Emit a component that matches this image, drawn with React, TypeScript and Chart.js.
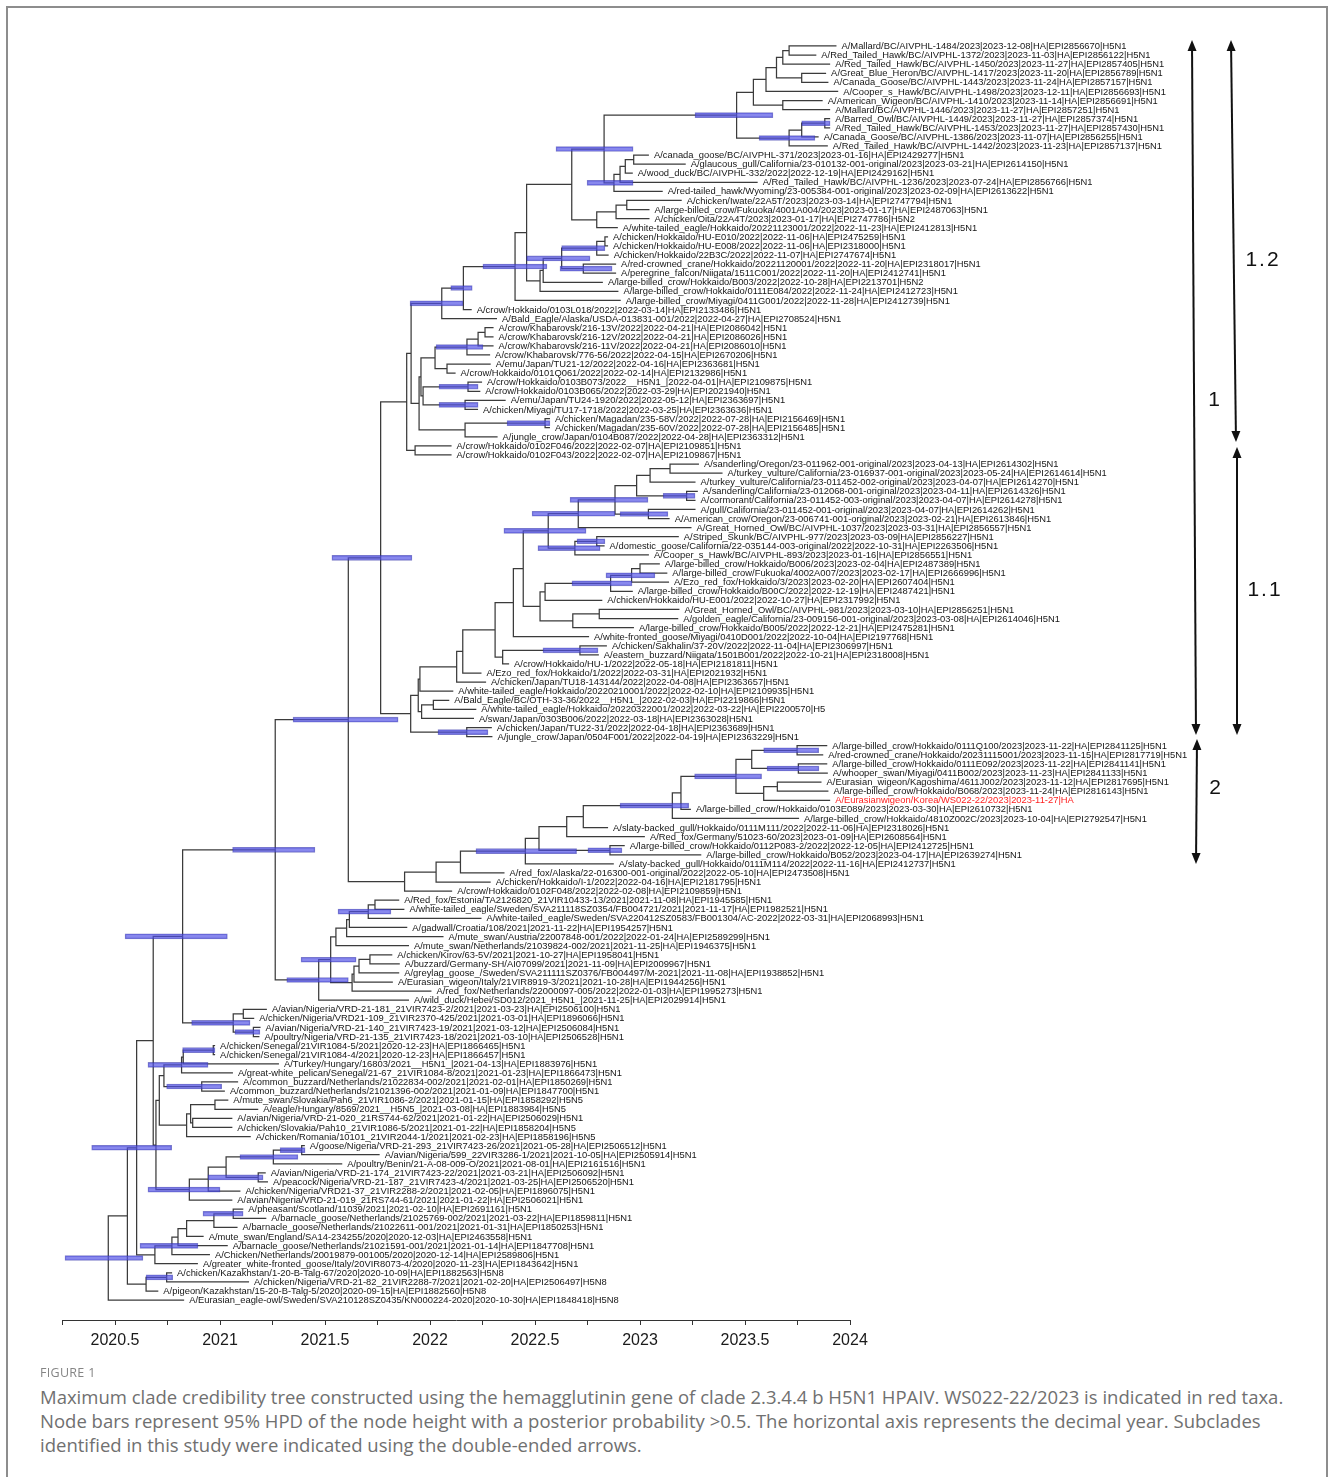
import React, { useEffect, useRef } from "react";
import { Chart, registerables } from "chart.js";
Chart.register(...registerables);

// ---------------- DATA ----------------
const tipLabels: string[] = [
  "A/Mallard/BC/AIVPHL-1484/2023|2023-12-08|HA|EPI2856670|H5N1",
  "A/Red_Tailed_Hawk/BC/AIVPHL-1372/2023|2023-11-03|HA|EPI2856122|H5N1",
  "A/Red_Tailed_Hawk/BC/AIVPHL-1450/2023|2023-11-27|HA|EPI2857405|H5N1",
  "A/Great_Blue_Heron/BC/AIVPHL-1417/2023|2023-11-20|HA|EPI2856789|H5N1",
  "A/Canada_Goose/BC/AIVPHL-1443/2023|2023-11-24|HA|EPI2857157|H5N1",
  "A/Cooper_s_Hawk/BC/AIVPHL-1498/2023|2023-12-11|HA|EPI2856693|H5N1",
  "A/American_Wigeon/BC/AIVPHL-1410/2023|2023-11-14|HA|EPI2856691|H5N1",
  "A/Mallard/BC/AIVPHL-1446/2023|2023-11-27|HA|EPI2857251|H5N1",
  "A/Barred_Owl/BC/AIVPHL-1449/2023|2023-11-27|HA|EPI2857374|H5N1",
  "A/Red_Tailed_Hawk/BC/AIVPHL-1453/2023|2023-11-27|HA|EPI2857430|H5N1",
  "A/Canada_Goose/BC/AIVPHL-1386/2023|2023-11-07|HA|EPI2856255|H5N1",
  "A/Red_Tailed_Hawk/BC/AIVPHL-1442/2023|2023-11-23|HA|EPI2857137|H5N1",
  "A/canada_goose/BC/AIVPHL-371/2023|2023-01-16|HA|EPI2429277|H5N1",
  "A/glaucous_gull/California/23-010132-001-original/2023|2023-03-21|HA|EPI2614150|H5N1",
  "A/wood_duck/BC/AIVPHL-332/2022|2022-12-19|HA|EPI2429162|H5N1",
  "A/Red_Tailed_Hawk/BC/AIVPHL-1236/2023|2023-07-24|HA|EPI2856766|H5N1",
  "A/red-tailed_hawk/Wyoming/23-005384-001-original/2023|2023-02-09|HA|EPI2613622|H5N1",
  "A/chicken/Iwate/22A5T/2023|2023-03-14|HA|EPI2747794|H5N1",
  "A/large-billed_crow/Fukuoka/4001A004/2023|2023-01-17|HA|EPI2487063|H5N1",
  "A/chicken/Oita/22A4T/2023|2023-01-17|HA|EPI2747786|H5N2",
  "A/white-tailed_eagle/Hokkaido/20221123001/2022|2022-11-23|HA|EPI2412813|H5N1",
  "A/chicken/Hokkaido/HU-E010/2022|2022-11-06|HA|EPI2475259|H5N1",
  "A/chicken/Hokkaido/HU-E008/2022|2022-11-06|HA|EPI2318000|H5N1",
  "A/chicken/Hokkaido/22B3C/2022|2022-11-07|HA|EPI2747674|H5N1",
  "A/red-crowned_crane/Hokkaido/20221120001/2022|2022-11-20|HA|EPI2318017|H5N1",
  "A/peregrine_falcon/Niigata/1511C001/2022|2022-11-20|HA|EPI2412741|H5N1",
  "A/large-billed_crow/Hokkaido/B003/2022|2022-10-28|HA|EPI2213701|H5N2",
  "A/large-billed_crow/Hokkaido/0111E084/2022|2022-11-24|HA|EPI2412723|H5N1",
  "A/large-billed_crow/Miyagi/0411G001/2022|2022-11-28|HA|EPI2412739|H5N1",
  "A/crow/Hokkaido/0103L018/2022|2022-03-14|HA|EPI2133486|H5N1",
  "A/Bald_Eagle/Alaska/USDA-013831-001/2022|2022-04-27|HA|EPI2708524|H5N1",
  "A/crow/Khabarovsk/216-13V/2022|2022-04-21|HA|EPI2086042|H5N1",
  "A/crow/Khabarovsk/216-12V/2022|2022-04-21|HA|EPI2086026|H5N1",
  "A/crow/Khabarovsk/216-11V/2022|2022-04-21|HA|EPI2086010|H5N1",
  "A/crow/Khabarovsk/776-56/2022|2022-04-15|HA|EPI2670206|H5N1",
  "A/emu/Japan/TU21-12/2022|2022-04-16|HA|EPI2363681|H5N1",
  "A/crow/Hokkaido/0101Q061/2022|2022-02-14|HA|EPI2132986|H5N1",
  "A/crow/Hokkaido/0103B073/2022__H5N1_|2022-04-01|HA|EPI2109875|H5N1",
  "A/crow/Hokkaido/0103B065/2022|2022-03-29|HA|EPI2021940|H5N1",
  "A/emu/Japan/TU24-1920/2022|2022-05-12|HA|EPI2363697|H5N1",
  "A/chicken/Miyagi/TU17-1718/2022|2022-03-25|HA|EPI2363636|H5N1",
  "A/chicken/Magadan/235-58V/2022|2022-07-28|HA|EPI2156469|H5N1",
  "A/chicken/Magadan/235-60V/2022|2022-07-28|HA|EPI2156485|H5N1",
  "A/jungle_crow/Japan/0104B087/2022|2022-04-28|HA|EPI2363312|H5N1",
  "A/crow/Hokkaido/0102F046/2022|2022-02-07|HA|EPI2109851|H5N1",
  "A/crow/Hokkaido/0102F043/2022|2022-02-07|HA|EPI2109867|H5N1",
  "A/sanderling/Oregon/23-011962-001-original/2023|2023-04-13|HA|EPI2614302|H5N1",
  "A/turkey_vulture/California/23-016937-001-original/2023|2023-05-24|HA|EPI2614614|H5N1",
  "A/turkey_vulture/California/23-011452-002-original/2023|2023-04-07|HA|EPI2614270|H5N1",
  "A/sanderling/California/23-012068-001-original/2023|2023-04-11|HA|EPI2614326|H5N1",
  "A/cormorant/California/23-011452-003-original/2023|2023-04-07|HA|EPI2614278|H5N1",
  "A/gull/California/23-011452-001-original/2023|2023-04-07|HA|EPI2614262|H5N1",
  "A/American_crow/Oregon/23-006741-001-original/2023|2023-02-21|HA|EPI2613846|H5N1",
  "A/Great_Horned_Owl/BC/AIVPHL-1037/2023|2023-03-31|HA|EPI2856557|H5N1",
  "A/Striped_Skunk/BC/AIVPHL-977/2023|2023-03-09|HA|EPI2856227|H5N1",
  "A/domestic_goose/California/22-035144-003-original/2022|2022-10-31|HA|EPI2263506|H5N1",
  "A/Cooper_s_Hawk/BC/AIVPHL-893/2023|2023-01-16|HA|EPI2856551|H5N1",
  "A/large-billed_crow/Hokkaido/B006/2023|2023-02-04|HA|EPI2487389|H5N1",
  "A/large-billed_crow/Fukuoka/4002A007/2023|2023-02-17|HA|EPI2666996|H5N1",
  "A/Ezo_red_fox/Hokkaido/3/2023|2023-02-20|HA|EPI2607404|H5N1",
  "A/large-billed_crow/Hokkaido/B00C/2022|2022-12-19|HA|EPI2487421|H5N1",
  "A/chicken/Hokkaido/HU-E001/2022|2022-10-27|HA|EPI2317992|H5N1",
  "A/Great_Horned_Owl/BC/AIVPHL-981/2023|2023-03-10|HA|EPI2856251|H5N1",
  "A/golden_eagle/California/23-009156-001-original/2023|2023-03-08|HA|EPI2614046|H5N1",
  "A/large-billed_crow/Hokkaido/B005/2022|2022-12-21|HA|EPI2475281|H5N1",
  "A/white-fronted_goose/Miyagi/0410D001/2022|2022-10-04|HA|EPI2197768|H5N1",
  "A/chicken/Sakhalin/37-20V/2022|2022-11-04|HA|EPI2306997|H5N1",
  "A/eastern_buzzard/Niigata/1501B001/2022|2022-10-21|HA|EPI2318008|H5N1",
  "A/crow/Hokkaido/HU-1/2022|2022-05-18|HA|EPI2181811|H5N1",
  "A/Ezo_red_fox/Hokkaido/1/2022|2022-03-31|HA|EPI2021932|H5N1",
  "A/chicken/Japan/TU18-143144/2022|2022-04-08|HA|EPI2363657|H5N1",
  "A/white-tailed_eagle/Hokkaido/20220210001/2022|2022-02-10|HA|EPI2109935|H5N1",
  "A/Bald_Eagle/BC/OTH-33-36/2022__H5N1_|2022-02-03|HA|EPI2219866|H5N1",
  "A/white-tailed_eagle/Hokkaido/20220322001/2022|2022-03-22|HA|EPI2200570|H5",
  "A/swan/Japan/0303B006/2022|2022-03-18|HA|EPI2363028|H5N1",
  "A/chicken/Japan/TU22-31/2022|2022-04-18|HA|EPI2363689|H5N1",
  "A/jungle_crow/Japan/0504F001/2022|2022-04-19|HA|EPI2363229|H5N1",
  "A/large-billed_crow/Hokkaido/0111Q100/2023|2023-11-22|HA|EPI2841125|H5N1",
  "A/red-crowned_crane/Hokkaido/20231115001/2023|2023-11-15|HA|EPI2817719|H5N1",
  "A/large-billed_crow/Hokkaido/0111E092/2023|2023-11-22|HA|EPI2841141|H5N1",
  "A/whooper_swan/Miyagi/0411B002/2023|2023-11-23|HA|EPI2841133|H5N1",
  "A/Eurasian_wigeon/Kagoshima/4611J002/2023|2023-11-12|HA|EPI2817695|H5N1",
  "A/large-billed_crow/Hokkaido/B068/2023|2023-11-24|HA|EPI2816143|H5N1",
  "A/Eurasianwigeon/Korea/WS022-22/2023|2023-11-27|HA",
  "A/large-billed_crow/Hokkaido/0103E089/2023|2023-03-30|HA|EPI2610732|H5N1",
  "A/large-billed_crow/Hokkaido/4810Z002C/2023|2023-10-04|HA|EPI2792547|H5N1",
  "A/slaty-backed_gull/Hokkaido/0111M111/2022|2022-11-06|HA|EPI2318026|H5N1",
  "A/Red_fox/Germany/51023-60/2023|2023-01-09|HA|EPI2608564|H5N1",
  "A/large-billed_crow/Hokkaido/0112P083-2/2022|2022-12-05|HA|EPI2412725|H5N1",
  "A/large-billed_crow/Hokkaido/B052/2023|2023-04-17|HA|EPI2639274|H5N1",
  "A/slaty-backed_gull/Hokkaido/0111M114/2022|2022-11-16|HA|EPI2412737|H5N1",
  "A/red_fox/Alaska/22-016300-001-original/2022|2022-05-10|HA|EPI2473508|H5N1",
  "A/chicken/Hokkaido/I-1/2022|2022-04-16|HA|EPI2181795|H5N1",
  "A/crow/Hokkaido/0102F048/2022|2022-02-08|HA|EPI2109859|H5N1",
  "A/Red_fox/Estonia/TA2126820_21VIR10433-13/2021|2021-11-08|HA|EPI1945585|H5N1",
  "A/white-tailed_eagle/Sweden/SVA211118SZ0354/FB004721/2021|2021-11-17|HA|EPI1982521|H5N1",
  "A/white-tailed_eagle/Sweden/SVA220412SZ0583/FB001304/AC-2022|2022-03-31|HA|EPI2068993|H5N1",
  "A/gadwall/Croatia/108/2021|2021-11-22|HA|EPI1954257|H5N1",
  "A/mute_swan/Austria/22007848-001/2022|2022-01-24|HA|EPI2589299|H5N1",
  "A/mute_swan/Netherlands/21039824-002/2021|2021-11-25|HA|EPI1946375|H5N1",
  "A/chicken/Kirov/63-5V/2021|2021-10-27|HA|EPI1958041|H5N1",
  "A/buzzard/Germany-SH/AI07099/2021|2021-11-09|HA|EPI2009967|H5N1",
  "A/greylag_goose_/Sweden/SVA211111SZ0376/FB004497/M-2021|2021-11-08|HA|EPI1938852|H5N1",
  "A/Eurasian_wigeon/Italy/21VIR8919-3/2021|2021-10-28|HA|EPI1944256|H5N1",
  "A/red_fox/Netherlands/22000097-005/2022|2022-01-03|HA|EPI1995273|H5N1",
  "A/wild_duck/Hebei/SD012/2021_H5N1_|2021-11-25|HA|EPI2029914|H5N1",
  "A/avian/Nigeria/VRD-21-181_21VIR7423-2/2021|2021-03-23|HA|EPI2506100|H5N1",
  "A/chicken/Nigeria/VRD21-109_21VIR2370-425/2021|2021-03-01|HA|EPI1896066|H5N1",
  "A/avian/Nigeria/VRD-21-140_21VIR7423-19/2021|2021-03-12|HA|EPI2506084|H5N1",
  "A/poultry/Nigeria/VRD-21-135_21VIR7423-18/2021|2021-03-10|HA|EPI2506528|H5N1",
  "A/chicken/Senegal/21VIR1084-5/2021|2020-12-23|HA|EPI1866465|H5N1",
  "A/chicken/Senegal/21VIR1084-4/2021|2020-12-23|HA|EPI1866457|H5N1",
  "A/Turkey/Hungary/16803/2021__H5N1_|2021-04-13|HA|EPI1883976|H5N1",
  "A/great-white_pelican/Senegal/21-67_21VIR1084-8/2021|2021-01-23|HA|EPI1866473|H5N1",
  "A/common_buzzard/Netherlands/21022834-002/2021|2021-02-01|HA|EPI1850269|H5N1",
  "A/common_buzzard/Netherlands/21021396-002/2021|2021-01-09|HA|EPI1847700|H5N1",
  "A/mute_swan/Slovakia/Pah6_21VIR1086-2/2021|2021-01-15|HA|EPI1858292|H5N5",
  "A/eagle/Hungary/8569/2021__H5N5_|2021-03-08|HA|EPI1883984|H5N5",
  "A/avian/Nigeria/VRD-21-020_21RS744-62/2021|2021-01-22|HA|EPI2506029|H5N1",
  "A/chicken/Slovakia/Pah10_21VIR1086-5/2021|2021-01-22|HA|EPI1858204|H5N5",
  "A/chicken/Romania/10101_21VIR2044-1/2021|2021-02-23|HA|EPI1858196|H5N5",
  "A/goose/Nigeria/VRD-21-293_21VIR7423-26/2021|2021-05-28|HA|EPI2506512|H5N1",
  "A/avian/Nigeria/599_22VIR3286-1/2021|2021-10-05|HA|EPI2505914|H5N1",
  "A/poultry/Benin/21-A-08-009-O/2021|2021-08-01|HA|EPI2161516|H5N1",
  "A/avian/Nigeria/VRD-21-174_21VIR7423-22/2021|2021-03-21|HA|EPI2506092|H5N1",
  "A/peacock/Nigeria/VRD-21-187_21VIR7423-4/2021|2021-03-25|HA|EPI2506520|H5N1",
  "A/chicken/Nigeria/VRD21-37_21VIR2288-2/2021|2021-02-05|HA|EPI1896075|H5N1",
  "A/avian/Nigeria/VRD-21-019_21RS744-61/2021|2021-01-22|HA|EPI2506021|H5N1",
  "A/pheasant/Scotland/11039/2021|2021-02-10|HA|EPI2691161|H5N1",
  "A/barnacle_goose/Netherlands/21025769-002/2021|2021-03-22|HA|EPI1859811|H5N1",
  "A/barnacle_goose/Netherlands/21022611-001/2021|2021-01-31|HA|EPI1850253|H5N1",
  "A/mute_swan/England/SA14-234255/2020|2020-12-03|HA|EPI2463558|H5N1",
  "A/barnacle_goose/Netherlands/21021591-001/2021|2021-01-14|HA|EPI1847708|H5N1",
  "A/Chicken/Netherlands/20019879-001005/2020|2020-12-14|HA|EPI2589806|H5N1",
  "A/greater_white-fronted_goose/Italy/20VIR8073-4/2020|2020-11-23|HA|EPI1843642|H5N1",
  "A/chicken/Kazakhstan/1-20-B-Talg-67/2020|2020-10-09|HA|EPI1882563|H5N8",
  "A/chicken/Nigeria/VRD-21-82_21VIR2288-7/2021|2021-02-20|HA|EPI2506497|H5N8",
  "A/pigeon/Kazakhstan/15-20-B-Talg-5/2020|2020-09-15|HA|EPI1882560|H5N8",
  "A/Eurasian_eagle-owl/Sweden/SVA210128SZ0435/KN000224-2020|2020-10-30|HA|EPI1848418|H5N8",
];

// index of the taxon highlighted in red
const highlightTip = 83;

// internal nodes: [name, childA, childB, node date (decimal year)]; children are tip indices or node names
const treeNodes: [string, number | string, number | string, number][] = [
  ["n01", 0, 1, 2023.71], ["n012", "n01", 2, 2023.68], ["n34", 3, 4, 2023.77],
  ["n0_4", "n012", "n34", 2023.65], ["n0_5", "n0_4", 5, 2023.6], ["n67", 6, 7, 2023.68],
  ["n0_7", "n0_5", "n67", 2023.54], ["n89", 8, 9, 2023.88], ["n8_10", "n89", 10, 2023.77],
  ["n8_11", "n8_10", 11, 2023.71], ["n0_11", "n0_7", "n8_11", 2023.46],
  ["n12_13", 12, 13, 2022.97], ["n12_14", "n12_13", 14, 2022.93], ["n12_15", "n12_14", 15, 2022.905],
  ["n12_16", "n12_15", 16, 2022.876], ["n0_16", "n0_11", "n12_16", 2022.829],
  ["n17_18", 17, 18, 2022.937], ["n17_19", "n17_18", 19, 2022.886], ["n17_20", "n17_19", 20, 2022.794],
  ["n0_20", "n0_16", "n17_20", 2022.675],
  ["n21_22", 21, 22, 2022.833], ["n21_23", "n21_22", 23, 2022.794], ["n24_25", 24, 25, 2022.73],
  ["n21_25", "n21_23", "n24_25", 2022.627], ["n21_26", "n21_25", 26, 2022.539], ["n21_27", "n21_26", 27, 2022.524],
  ["n0_27", "n0_20", "n21_27", 2022.46], ["n0_28", "n0_27", 28, 2022.405], ["n0_29", "n0_28", 29, 2022.159],
  ["n0_30", "n0_29", 30, 2022.056],
  ["n31_32", 31, 32, 2022.262], ["n31_33", "n31_32", 33, 2022.229], ["n31_34", "n31_33", 34, 2022.176],
  ["n35_36", 35, 36, 2022.081], ["n31_36", "n31_34", "n35_36", 2022.024],
  ["n37_38", 37, 38, 2022.181], ["n39_40", 39, 40, 2022.167], ["n37_40", "n37_38", "n39_40", 2021.967],
  ["n31_40", "n31_36", "n37_40", 2021.957], ["n41_42", 41, 42, 2022.548], ["n41_43", "n41_42", 43, 2022.167],
  ["n31_43", "n31_40", "n41_43", 2021.948], ["n0_43", "n0_30", "n31_43", 2021.91],
  ["n44_45", 44, 45, 2021.929], ["c12", "n0_43", "n44_45", 2021.889],
  ["n46_47", 46, 47, 2023.143], ["n46_48", "n46_47", 48, 2023.048], ["n49_50", 49, 50, 2023.222],
  ["n46_50", "n46_48", "n49_50", 2022.984], ["n51_52", 51, 52, 2023.04], ["n46_52", "n46_50", "n51_52", 2022.881],
  ["n46_53", "n46_52", 53, 2022.706], ["n54_55", 54, 55, 2022.794], ["n54_56", "n54_55", 56, 2022.69],
  ["n46_56", "n46_53", "n54_56", 2022.563], ["n57_58", 57, 58, 2023.0], ["n57_59", "n57_58", 59, 2022.96],
  ["n57_60", "n57_59", 60, 2022.86], ["n57_61", "n57_60", 61, 2022.548], ["n62_63", 62, 63, 2022.806],
  ["n62_64", "n62_63", 64, 2022.68], ["n57_64", "n57_61", "n62_64", 2022.524], ["n46_64", "n46_56", "n57_64", 2022.444],
  ["n46_65", "n46_64", 65, 2022.397], ["n66_67", 66, 67, 2022.714], ["n66_68", "n66_67", 68, 2022.346],
  ["n46_68", "n46_65", "n66_68", 2022.31], ["n46_69", "n46_68", 69, 2022.156], ["n46_70", "n46_69", 70, 2022.127],
  ["n46_71", "n46_70", 71, 2021.952], ["n72_73", 72, 73, 2022.016], ["n72_74", "n72_73", 74, 2021.96],
  ["n46_74", "n46_71", "n72_74", 2021.944], ["n75_76", 75, 76, 2022.175], ["c11", "n46_74", "n75_76", 2021.908],
  ["c1", "c12", "c11", 2021.765],
  ["n77_78", 77, 78, 2023.748], ["n79_80", 79, 80, 2023.754], ["n77_80", "n77_78", "n79_80", 2023.532],
  ["n81_82", 81, 82, 2023.654], ["n81_83", "n81_82", 83, 2023.589], ["n77_83", "n77_80", "n81_83", 2023.457],
  ["n77_84", "n77_83", 84, 2023.195], ["n77_85", "n77_84", 85, 2023.154], ["n77_86", "n77_85", 86, 2022.73],
  ["n77_87", "n77_86", 87, 2022.651], ["n88_89", 88, 89, 2022.857], ["n77_89", "n77_87", "n88_89", 2022.519],
  ["n77_90", "n77_89", 90, 2022.454], ["n77_91", "n77_90", 91, 2022.145], ["n77_92", "n77_91", 92, 2022.029],
  ["c2", "n77_92", 93, 2021.879], ["c1_2", "c1", "c2", 2021.611],
  ["n94_95", 94, 95, 2021.738], ["n94_96", "n94_95", 96, 2021.706], ["n94_97", "n94_96", 97, 2021.616],
  ["n94_98", "n94_97", 98, 2021.603], ["n94_99", "n94_98", 99, 2021.552],
  ["n100_101", 100, 101, 2021.714], ["n100_102", "n100_101", 102, 2021.662], ["n100_103", "n100_102", 103, 2021.638],
  ["n100_104", "n100_103", 104, 2021.629], ["n94_104", "n94_99", "n100_104", 2021.527],
  ["n94_105", "n94_104", 105, 2021.47], ["n0_105", "c1_2", "n94_105", 2021.263],
  ["n106_107", 106, 107, 2021.111], ["n108_109", 108, 109, 2021.159], ["n106_109", "n106_107", "n108_109", 2021.063],
  ["n0_109", "n0_105", "n106_109", 2020.822],
  ["n110_111", 110, 111, 2020.968], ["n110_112", "n110_111", 112, 2020.825], ["n110_113", "n110_112", 113, 2020.817],
  ["n114_115", 114, 115, 2020.913], ["n110_115", "n110_113", "n114_115", 2020.733],
  ["n116_117", 116, 117, 2020.976], ["n118_119", 118, 119, 2020.87], ["n116_119", "n116_117", "n118_119", 2020.86],
  ["n116_120", "n116_119", 120, 2020.841], ["n110_120", "n110_115", "n116_120", 2020.711],
  ["n121_122", 121, 122, 2021.389], ["n121_123", "n121_122", 123, 2021.254], ["n124_125", 124, 125, 2021.182],
  ["n121_125", "n121_123", "n124_125", 2021.029], ["n121_126", "n121_125", 126, 2020.944],
  ["n121_127", "n121_126", 127, 2020.854], ["n110_127", "n110_120", "n121_127", 2020.695],
  ["n0_127", "n0_109", "n110_127", 2020.682],
  ["n128_129", 128, 129, 2021.063], ["n128_130", "n128_129", 130, 2020.971], ["n128_131", "n128_130", 131, 2020.841],
  ["n128_132", "n128_131", 132, 2020.8], ["n128_133", "n128_132", 133, 2020.771], ["n128_134", "n128_133", 134, 2020.69],
  ["n0_134", "n0_127", "n128_134", 2020.603],
  ["n135_136", 135, 136, 2020.746], ["n135_137", "n135_136", 137, 2020.648], ["n0_137", "n0_134", "n135_137", 2020.559],
  ["root", "n0_137", 138, 2020.468],
];

// 95% HPD of node heights: [node, lower, upper]
const hpdBars: [string, number, number][] = [
  ["n89", 2023.77, 2023.905], ["n8_11", 2023.567, 2023.833], ["n0_11", 2023.262, 2023.633],
  ["n12_16", 2022.748, 2022.967], ["n0_16", 2022.6, 2022.967], ["n21_23", 2022.627, 2022.833],
  ["n24_25", 2022.619, 2022.867], ["n21_25", 2022.46, 2022.762], ["n0_28", 2022.252, 2022.557],
  ["n0_29", 2022.099, 2022.201], ["n0_30", 2021.905, 2022.157], ["n31_34", 2022.029, 2022.252],
  ["n37_38", 2022.043, 2022.229], ["n39_40", 2022.043, 2022.229], ["n41_42", 2022.367, 2022.571],
  ["n49_50", 2023.11, 2023.262], ["n51_52", 2022.905, 2023.133], ["n46_52", 2022.667, 2023.038],
  ["n46_53", 2022.486, 2022.881], ["n54_55", 2022.7, 2022.833], ["n54_56", 2022.514, 2022.81],
  ["n46_56", 2022.352, 2022.743], ["n57_59", 2022.838, 2023.071], ["n57_60", 2022.676, 2022.962],
  ["n66_67", 2022.538, 2022.8], ["n75_76", 2022.038, 2022.276], ["c1", 2021.533, 2021.914],
  ["n77_78", 2023.589, 2023.851], ["n79_80", 2023.605, 2023.852], ["n77_83", 2023.26, 2023.579],
  ["n77_85", 2022.905, 2023.232], ["n88_89", 2022.752, 2022.914], ["n77_90", 2022.219, 2022.698],
  ["c1_2", 2021.348, 2021.848], ["n94_96", 2021.562, 2021.814], ["n94_104", 2021.386, 2021.648],
  ["n94_105", 2021.318, 2021.611], ["n0_105", 2021.06, 2021.452], ["n108_109", 2021.071, 2021.19],
  ["n106_109", 2020.865, 2021.143], ["n0_109", 2020.548, 2021.035], ["n110_111", 2020.822, 2020.976],
  ["n110_113", 2020.657, 2020.943], ["n114_115", 2020.746, 2021.008], ["n121_122", 2021.286, 2021.405],
  ["n121_123", 2021.095, 2021.371], ["n124_125", 2020.943, 2021.205], ["n121_127", 2020.657, 2021.0],
  ["n128_129", 2020.919, 2021.11], ["n128_133", 2020.619, 2020.895], ["n135_136", 2020.648, 2020.775],
  ["n0_134", 2020.389, 2020.77], ["root", 2020.262, 2020.633],
];

// subclade arrows: label, span in tip-row units (from, to) and row of the label
const cladeArrows = [
  { label: "1", from: -0.66, to: 75.82, labelAt: 38.96 },
  { label: "1.2", from: -0.66, to: 43.58, labelAt: 23.55 },
  { label: "1.1", from: 44.13, to: 75.82, labelAt: 59.87 },
  { label: "2", from: 76.26, to: 90.02, labelAt: 81.66 },
];

// axis (decimal year)
const axisMin = 2020.25;
const axisMax = 2024;
const axisStep = 0.25;

const captionTitle = "FIGURE 1";
const captionLines = [
  "Maximum clade credibility tree constructed using the hemagglutinin gene of clade 2.3.4.4 b H5N1 HPAIV. WS022-22/2023 is indicated in red taxa.",
  "Node bars represent 95% HPD of the node height with a posterior probability >0.5. The horizontal axis represents the decimal year. Subclades",
  "identified in this study were indicated using the double-ended arrows.",
];

// ---------------- LAYOUT ----------------
const W = 1335;
const CANVAS_H = 1365;
const ARROW_LAYOUT: Record<string, { xTop: number; xBot: number; labelX: number }> = {
  "1": { xTop: 1192, xBot: 1196, labelX: 1215 },
  "1.2": { xTop: 1231, xBot: 1236, labelX: 1263 },
  "1.1": { xTop: 1237, xBot: 1237, labelX: 1265 },
  "2": { xTop: 1197, xBot: 1196, labelX: 1216 },
};
const SANS = '"Liberation Sans", Arial, Helvetica, sans-serif';

function toDecimalYear(s: string): number {
  const [Y, M, D] = s.split("-").map(Number);
  const start = Date.UTC(Y, 0, 1);
  const end = Date.UTC(Y + 1, 0, 1);
  return Y + (Date.UTC(Y, M - 1, D) - start + 43200000) / (end - start);
}

function drawDoubleArrow(ctx: CanvasRenderingContext2D, x1: number, y1: number, x2: number, y2: number) {
  const dx = x2 - x1, dy = y2 - y1;
  const len = Math.hypot(dx, dy);
  const ux = dx / len, uy = dy / len;
  const head = 11, hw = 4.5;
  ctx.beginPath();
  ctx.moveTo(x1 + ux * head * 0.8, y1 + uy * head * 0.8);
  ctx.lineTo(x2 - ux * head * 0.8, y2 - uy * head * 0.8);
  ctx.stroke();
  const tri = (tx: number, ty: number, dirx: number, diry: number) => {
    ctx.beginPath();
    ctx.moveTo(tx, ty);
    ctx.lineTo(tx - dirx * head - diry * hw, ty - diry * head + dirx * hw);
    ctx.lineTo(tx - dirx * head + diry * hw, ty - diry * head - dirx * hw);
    ctx.closePath();
    ctx.fill();
  };
  tri(x1, y1, -ux, -uy);
  tri(x2, y2, ux, uy);
}

export default function App() {
  const canvasRef = useRef<HTMLCanvasElement>(null);

  useEffect(() => {
    const canvas = canvasRef.current;
    if (!canvas) return;

    const tipYears = tipLabels.map((l) => toDecimalYear(l.split("|")[1]));
    const nodeMap: Record<string, [number | string, number | string, number]> = {};
    treeNodes.forEach(([n, a, b, t]) => (nodeMap[n] = [a, b, t]));
    const yCache: Record<string, number> = {};
    const yOf = (r: number | string): number => {
      if (typeof r === "number") return r;
      if (yCache[r] !== undefined) return yCache[r];
      const [a, b] = nodeMap[r];
      const v = (yOf(a) + yOf(b)) / 2;
      yCache[r] = v;
      return v;
    };
    const tOf = (r: number | string): number => (typeof r === "number" ? tipYears[r] : nodeMap[r][2]);

    const branchPts: { x: number; y: number }[] = [];
    treeNodes.forEach(([, a, b, t]) => {
      branchPts.push({ x: tOf(a), y: yOf(a) });
      branchPts.push({ x: t, y: yOf(a) });
      branchPts.push({ x: t, y: yOf(b) });
      branchPts.push({ x: tOf(b), y: yOf(b) });
      branchPts.push({ x: NaN, y: NaN });
    });

    const hpdData = hpdBars.map(([n, lo, hi]) => ({ x: [lo, hi], y: yOf(n) }));

    const overlay = {
      id: "treeOverlay",
      afterDatasetsDraw(chart: any) {
        const ctx: CanvasRenderingContext2D = chart.ctx;
        const xs = chart.scales.x;
        const ys = chart.scales.y;
        ctx.save();
        ctx.font = `9.4px ${SANS}`;
        ctx.textBaseline = "middle";
        ctx.textAlign = "left";
        tipLabels.forEach((lab, i) => {
          ctx.fillStyle = i === highlightTip ? "#ff1f1f" : "#161616";
          ctx.fillText(lab, xs.getPixelForValue(tipYears[i]) + 5, ys.getPixelForValue(i) + 0.5);
        });
        ctx.strokeStyle = "#111";
        ctx.fillStyle = "#111";
        ctx.lineWidth = 2;
        cladeArrows.forEach((a) => {
          const lay = ARROW_LAYOUT[a.label];
          drawDoubleArrow(ctx, lay.xTop, ys.getPixelForValue(a.from), lay.xBot, ys.getPixelForValue(a.to));
        });
        ctx.font = `21px ${SANS}`;
        ctx.textAlign = "center";
        (ctx as any).letterSpacing = "2px";
        cladeArrows.forEach((a) => {
          const lay = ARROW_LAYOUT[a.label];
          ctx.fillText(a.label, lay.labelX, ys.getPixelForValue(a.labelAt));
        });
        ctx.restore();
      },
    };

    const chart = new Chart(canvas, {
      type: "line",
      data: {
        datasets: [
          {
            type: "bar",
            label: "HPD",
            data: hpdData as any,
            indexAxis: "y",
            barThickness: 5,
            backgroundColor: "rgba(80,80,228,0.68)",
            borderColor: "rgba(45,45,165,0.6)",
            borderWidth: 0.8,
            borderSkipped: false,
            order: 0,
          } as any,
          {
            type: "line",
            label: "branches",
            data: branchPts,
            borderColor: "#3b3b3b",
            borderWidth: 1.25,
            pointRadius: 0,
            pointHoverRadius: 0,
            spanGaps: false,
            fill: false,
            tension: 0,
            order: 1,
          } as any,
        ],
      },
      options: {
        animation: false,
        responsive: false,
        devicePixelRatio: 1,
        events: [],
        layout: { padding: { left: 62.5, right: W - 850, top: 36.9, bottom: 0 } },
        plugins: { legend: { display: false }, tooltip: { enabled: false }, title: { display: false } },
        scales: {
          x: {
            type: "linear",
            min: axisMin,
            max: axisMax,
            beginAtZero: false,
            offset: false,
            afterFit: (s: any) => {
              s.height = 45;
            },
            grid: { display: true, drawOnChartArea: false, drawTicks: true, tickLength: 5, color: "#333", tickColor: "#333", offset: false },
            border: { display: true, color: "#333", width: 1 },
            ticks: {
              stepSize: axisStep,
              autoSkip: false,
              maxRotation: 0,
              padding: 6,
              color: "#1a1a1a",
              font: { size: 16, family: SANS },
              callback: (v: any) => {
                const n = Number(v);
                return Math.abs(n * 2 - Math.round(n * 2)) < 1e-9 ? String(n) : "";
              },
            },
          },
          y: {
            type: "linear",
            min: -1,
            max: 140.19,
            reverse: true,
            display: false,
            offset: false,
            beginAtZero: false,
            grid: { offset: false },
          },
        },
      } as any,
      plugins: [overlay],
    });
    return () => chart.destroy();
  }, []);

  return (
    <div style={{ position: "absolute", left: 0, top: 0, width: W, height: 1477, overflow: "hidden", background: "#fff" }}>
      <div
        style={{
          position: "absolute",
          left: 6,
          top: 6,
          width: 1322,
          height: 1520,
          border: "2px solid #8d8d8d",
          boxSizing: "border-box",
        }}
      />
      <canvas ref={canvasRef} width={W} height={CANVAS_H} style={{ position: "absolute", left: 0, top: 0, width: W, height: CANVAS_H }} />
      <div
        style={{
          position: "absolute",
          left: 40,
          top: 1365,
          fontFamily: "'Open Sans', Lato, sans-serif",
          fontSize: 12.5,
          lineHeight: "16px",
          letterSpacing: "0.3px",
          color: "#858585",
          whiteSpace: "nowrap",
        }}
      >
        {captionTitle}
      </div>
      {captionLines.map((line, i) => (
        <div
          key={i}
          style={{
            position: "absolute",
            left: 40,
            top: 1385 + i * 24,
            fontFamily: "'Open Sans', Lato, sans-serif",
            fontSize: 18.5,
            lineHeight: "24px",
            color: "#707070",
            whiteSpace: "nowrap",
          }}
        >
          {line}
        </div>
      ))}
    </div>
  );
}
